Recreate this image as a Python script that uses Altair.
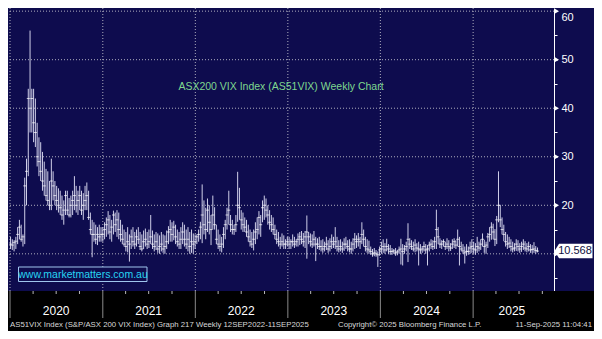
import altair as alt
import pandas as pd

# ---------------- data (weekly OHLC-style: high, low, close) ----------------
hi_2020 = [13.5, 13, 12.8, 13.5, 15.5, 17, 16, 14, 25.7, 29.6, 44, 56, 44, 44, 42, 37, 34, 33, 31, 29,
           27.5, 27, 25, 29.6, 27, 25, 24, 23.5, 23, 22, 21, 23, 23, 21.5, 22, 23, 26, 24, 23, 24,
           23, 22.5, 24, 24.7, 23, 18.5, 17, 16.5, 16, 15.5, 16, 15.5]
lo_2020 = [11, 10.8, 10.5, 11, 12, 13, 12.5, 11.5, 12, 20, 26, 35, 35, 33, 32, 28, 26, 25, 23, 22,
           21, 20, 19, 19, 21, 20, 19, 18.5, 18, 17, 16, 18, 18, 17.5, 17.5, 18, 19, 18.5, 18, 19,
           18, 17, 19, 19, 17, 14, 9.3, 12.5, 12, 11.8, 12.5, 12.5]
cl_2020 = [12, 11.8, 12.3, 12.6, 14, 15.5, 13, 13.5, 24, 27, 42, 40, 42, 37, 35, 30, 29, 27, 25, 24,
           22, 21, 20, 25, 24, 22, 21, 20, 19.5, 18, 19, 22, 19, 18, 20, 21, 22, 20, 21, 22,
           19, 20, 21, 22, 17.5, 15, 14, 14, 13, 14, 13.5, 14]

hi_2021 = [15.5, 16.5, 17.5, 18.8, 18, 17, 18.9, 18.5, 19, 18.5, 17, 16, 15, 14.5, 15.5, 14, 15, 15.5, 14.5, 15,
           15.5, 14.5, 14, 14.8, 15.2, 14.5, 15, 18, 14.8, 14, 14.5, 14.2, 13.8, 14.5, 14, 13.8, 14.8, 15.7, 17, 16.5,
           16.8, 16, 15, 14.5, 15.5, 16.5, 16, 15, 15.5, 14.5, 15, 14.2, 14]
lo_2021 = [12.5, 13, 13.5, 14, 13, 12.5, 14, 14.5, 13.5, 13, 12.5, 12, 11.5, 10.5, 10.3, 8.4, 11, 11.5, 11, 11.5,
           12, 10.8, 10.5, 11, 11.5, 11, 11.2, 12, 11, 10.5, 10.8, 10.2, 10, 10.5, 10.2, 10, 11, 12, 12.5, 12.5,
           12.8, 12, 11.5, 11, 11, 12, 11.5, 11, 10.5, 10, 10.2, 10, 11]
cl_2021 = [14, 15, 16, 17, 14.5, 15.5, 18, 16, 17, 15, 14, 13, 12, 11.5, 12.5, 12, 13.5, 12.5, 12, 13.5,
           13, 11.5, 11, 12.5, 13, 12, 12.5, 13.5, 12, 11.5, 12.5, 11, 11.5, 12, 11, 11.5, 12.5, 14.5, 15, 14,
           15.5, 13.5, 12.5, 12, 13, 14.5, 13, 12, 13, 11.5, 12.5, 12, 12.5]

hi_2022 = [14, 15, 16.6, 24.3, 21, 19.5, 21.4, 20, 18, 22, 19.6, 16, 15, 14, 13.5, 15.5, 17, 19.5, 23, 18,
           17, 16, 18, 26.9, 23.6, 19, 18.5, 17.5, 17, 16, 15, 14.5, 15, 16.5, 17.5, 18.8, 18, 21, 22, 21.4,
           20, 19, 18, 17.5, 16, 15, 14.5, 13.5, 14.2, 13.8, 13, 13.5]
lo_2022 = [12, 12.5, 13, 12.2, 14, 13, 14.5, 14, 11.8, 15, 15, 12, 11, 10.5, 10.3, 11.2, 13, 15, 16, 14.5,
           14, 13.9, 14.5, 16.6, 17, 15, 14.5, 14.5, 13.5, 12.5, 11.5, 11.2, 10.7, 12, 13, 14, 13.5, 16.5, 17, 17.5,
           16, 15, 14.5, 14, 13, 12, 11.5, 11, 11.5, 11, 11, 11.5]
cl_2022 = [13.5, 14, 15.5, 18, 16, 15, 19, 16.5, 15, 18, 16, 13, 12, 11.5, 12, 14, 16, 18, 19, 16,
           15, 15, 16, 20, 19.5, 17, 16, 15.5, 14.5, 13.5, 12.5, 12, 13, 14.5, 15, 17.5, 16, 19.5, 20, 19,
           18, 16.5, 16, 15, 14, 13, 12.5, 12, 12.5, 12, 12, 12.5]

hi_2023 = [13.5, 13, 14, 13.5, 13, 14.2, 14.5, 14.7, 14.3, 14.7, 17.9, 14.5, 14.2, 14, 14.7, 13.5, 13.2, 13.5, 12.8, 13,
           12.5, 13.5, 12.8, 13.2, 14, 13.5, 15.5, 13.5, 12.8, 13, 12.5, 13.2, 13.5, 12.8, 13, 12.5, 13.2, 14.3, 13.8, 14.3,
           13.5, 16.5, 15, 13.5, 13, 12.7, 11.5, 11, 11.2, 10.8, 10.5, 11.5]
lo_2023 = [11, 11, 11.5, 11.2, 11.5, 11.5, 11.8, 12, 11.5, 11.2, 9, 12, 11.5, 11.2, 11.5, 8.5, 11, 10.8, 10.5, 10.2,
           10.5, 10.8, 10.2, 10.5, 11, 11.2, 11, 10.5, 10.3, 10.5, 10.2, 10.6, 11, 10.5, 10.3, 10, 10.5, 11, 11.2, 11.5,
           11, 12, 11.5, 10.5, 10.2, 10, 9.8, 9.4, 9.5, 9.4, 7.3, 9.6]
cl_2023 = [12, 12.5, 12.5, 12, 12.5, 13, 13.5, 13, 12.5, 13.5, 14.5, 13.5, 12.5, 12, 13, 12, 12, 11.5, 11.5, 11,
           11.5, 12, 11, 11.5, 12.5, 12, 12.5, 11.5, 11, 11.5, 11, 12, 12, 11.5, 11, 11, 12, 13, 12.5, 13,
           12.5, 14, 13, 11.5, 11, 10.8, 10.5, 10, 10.2, 10, 9.8, 10.8]

hi_2024 = [12.5, 13, 12.2, 13.1, 12, 11.8, 11.2, 11, 11.2, 10.8, 11.5, 13.1, 12, 11.8, 12.5, 16.3, 13.2, 12.8, 12.5, 13,
           12.2, 12.5, 12, 11.6, 12.5, 12, 11.8, 12.5, 13, 12.8, 13.5, 19.1, 15.5, 13.2, 12.8, 13, 12.5, 13.2, 12.8, 12.2,
           13, 13.2, 12.8, 15, 13.5, 12.5, 12, 11.5, 12, 11.5, 12.5, 13]
lo_2024 = [10, 10.2, 10, 10.5, 10, 9.8, 9.8, 10, 9.6, 9.7, 10, 7.8, 7.6, 10, 10.5, 8.3, 11, 10.8, 10.5, 10.3,
           10.5, 7.6, 10, 10.2, 10.5, 10, 7.6, 10.5, 11, 10.8, 11, 11, 12, 11.2, 11, 11.5, 10.8, 11, 10.5, 10.6,
           11, 11.2, 11, 11.5, 7.6, 10.5, 10, 8, 9.6, 9.8, 10, 10.2]
cl_2024 = [11, 11.5, 10.8, 11.5, 11, 10.5, 10.5, 10.6, 10.2, 10.4, 10.8, 11, 10.5, 11, 11.5, 13, 12, 11.5, 11, 11.8,
           11.2, 11, 10.8, 11, 11.5, 10.8, 11, 11.8, 12, 11.5, 12.5, 15, 13.5, 12, 12, 12.5, 11.5, 12, 11.5, 11.2,
           12, 12.5, 11.8, 13, 11.5, 11, 10.6, 10.2, 10.5, 10.5, 11.2, 11.5]

hi_2025 = [12.5, 12.2, 13.5, 12.5, 13, 14.2, 12.9, 12.5, 14.3, 15.5, 16.5, 16.2, 15.1, 17.8, 27, 20.1, 17.5, 16, 14.5, 14,
           13.5, 13, 12.5, 12.2, 13, 12.8, 12.2, 12.5, 13, 12.6, 12.2, 12.5, 12, 11.8, 12.4, 11.6, 11.3]
lo_2025 = [10, 9.8, 10.2, 10.5, 10.8, 11.5, 10.2, 10, 11.2, 12.5, 12.9, 13, 11.6, 12, 16.5, 15.5, 14, 12.6, 11.5, 11,
           11.2, 10.5, 10.3, 10.5, 10.6, 10.5, 10.2, 10.4, 10.8, 10.5, 10.3, 10.5, 10.2, 10.1, 10.2, 10, 10.3]
cl_2025 = [11, 10.8, 11.5, 11.2, 12, 13, 11.5, 11.8, 13.5, 14, 15.5, 14.5, 13, 17, 20, 17, 15, 14, 12.5, 12,
           12.2, 11.5, 11, 11.2, 12, 11.5, 11, 11.5, 12, 11.2, 11, 11.5, 10.8, 10.9, 11, 10.7, 10.568]

first_week = "2020-01-03"
year_labels = ["2020", "2021", "2022", "2023", "2024", "2025"]
year_label_dates = ["2020-07-01", "2021-07-01", "2022-07-01", "2023-07-01", "2024-07-01", "2025-06-03"]
year_starts = ["2020-01-01", "2021-01-01", "2022-01-01", "2023-01-01", "2024-01-01", "2025-01-01"]
quarter_ticks = [f"{y}-{m}-01" for y in range(2020, 2026) for m in ("04", "07", "10")]
y_major = [10, 20, 30, 40, 50, 60]
y_ticks = [5, 10, 15, 20, 25, 30, 35, 40, 45, 50, 55, 60]

title_text = "ASX200 VIX Index (AS51VIX) Weekly Chart"
site_text = "www.marketmatters.com.au"
footer_left = "AS51VIX Index (S&P/ASX 200 VIX Index) Graph 217  Weekly 12SEP2022-11SEP2025"
footer_mid = "Copyright\u00a9 2025 Bloomberg Finance L.P."
footer_right = "11-Sep-2025 11:04:41"

# ---------------- tables ----------------
hi = hi_2020 + hi_2021 + hi_2022 + hi_2023 + hi_2024 + hi_2025
lo = lo_2020 + lo_2021 + lo_2022 + lo_2023 + lo_2024 + lo_2025
cl = cl_2020 + cl_2021 + cl_2022 + cl_2023 + cl_2024 + cl_2025
dates = pd.date_range(first_week, periods=len(hi), freq="7D")
bars = pd.DataFrame({"date": dates, "hi": hi, "lo": lo, "cl": cl})
last = bars.tail(1)

one = pd.DataFrame({"k": [0]})

# ---------------- styling ----------------
W, H = 546, 283
PAD_R, PAD_B = 40, 40
NAVY = "#0e0c4e"
GRID = "#aeaebe"
BAR = "#cfcfe8"
FONT = "Liberation Sans, Arial, sans-serif"
FOOT_COL = "#d8d8d8"

x_scale = alt.Scale(domain=[alt.DateTime(year=2019, month=12, date=24),
                            alt.DateTime(year=2025, month=11, date=16)])
y_scale = alt.Scale(domain=[2.34, 60.65], nice=False, zero=False)
yaxis = alt.Axis(orient="right", values=y_ticks,
                 labelExpr="(datum.value % 10 == 0 && datum.value != 10) ? datum.label : ''",
                 labelBaseline={"condition": {"test": "datum.value == 60", "value": "top"},
                                "value": "middle"},
                 grid=False, domainColor="white", domainWidth=1, tickColor="white",
                 tickSize=3, labelColor="white", labelFont=FONT, labelFontSize=11,
                 labelPadding=4, title=None)

hgrid = alt.Chart(pd.DataFrame({"v": y_major})).mark_rule(
    color=GRID, strokeDash=[1, 2], strokeWidth=1).encode(
    y=alt.Y("v:Q", scale=y_scale, axis=yaxis))

vgrid = alt.Chart(pd.DataFrame({"d": year_starts})).mark_rule(
    color=GRID, strokeDash=[1, 2], strokeWidth=1).encode(
    x=alt.X("d:T", scale=x_scale, axis=None))

rules = alt.Chart(bars).mark_rule(color=BAR, strokeWidth=1).encode(
    x=alt.X("date:T", scale=x_scale, axis=None),
    y=alt.Y("lo:Q", scale=y_scale, axis=yaxis),
    y2="hi:Q")

closes = alt.Chart(bars).mark_tick(orient="horizontal", size=3, thickness=1, color="#ffffff").encode(
    x=alt.X("date:T", scale=x_scale, axis=None),
    y=alt.Y("cl:Q", scale=y_scale, axis=yaxis))

bottom = alt.Chart(one).mark_rect(color="black").encode(
    x=alt.value(0), x2=alt.value(W + PAD_R), y=alt.value(H), y2=alt.value(H + PAD_B))

year_lines = alt.Chart(pd.DataFrame({"d": year_starts})).mark_rule(color="#8a8a8a", strokeWidth=1).encode(
    x=alt.X("d:T", scale=x_scale, axis=None), y=alt.value(H), y2=alt.value(H + 27))

q_ticks = alt.Chart(pd.DataFrame({"d": quarter_ticks})).mark_rule(color="#b8b8b8", strokeWidth=1).encode(
    x=alt.X("d:T", scale=x_scale, axis=None), y=alt.value(H), y2=alt.value(H + 3))

years = alt.Chart(pd.DataFrame({"d": year_label_dates, "t": year_labels})).mark_text(
    color="white", font=FONT, fontSize=12, baseline="middle", align="center").encode(
    x=alt.X("d:T", scale=x_scale, axis=None), y=alt.value(303), text="t:N")

foot_l = alt.Chart(pd.DataFrame({"t": [footer_left]})).mark_text(
    color=FOOT_COL, font=FONT, fontSize=7.8, align="left", baseline="middle").encode(
    x=alt.value(2), y=alt.value(317), text="t:N")
foot_m = alt.Chart(pd.DataFrame({"t": [footer_mid]})).mark_text(
    color=FOOT_COL, font=FONT, fontSize=7.8, align="left", baseline="middle").encode(
    x=alt.value(330), y=alt.value(317), text="t:N")
foot_r = alt.Chart(pd.DataFrame({"t": [footer_right]})).mark_text(
    color=FOOT_COL, font=FONT, fontSize=7.8, align="right", baseline="middle").encode(
    x=alt.value(584), y=alt.value(317), text="t:N")

site_box = alt.Chart(one).mark_rect(fill=NAVY, stroke="#9fc6ee", strokeWidth=1).encode(
    x=alt.value(10.5), x2=alt.value(139), y=alt.value(259), y2=alt.value(273.5))
site = alt.Chart(pd.DataFrame({"t": [site_text]})).mark_text(
    color="#27d4f2", font=FONT, fontSize=10.5, align="center", baseline="middle").encode(
    x=alt.value(75), y=alt.value(266.5), text="t:N")

title = alt.Chart(pd.DataFrame({"t": [title_text]})).mark_text(
    color="#7fd88f", font=FONT, fontSize=10.5, align="center", baseline="middle").encode(
    x=alt.value(273), y=alt.value(79), text="t:N")

tri = alt.Chart(pd.DataFrame({"v": y_major})).mark_point(
    shape="triangle-right", filled=True, size=22, color="white", opacity=1).encode(
    x=alt.value(W + 3), y=alt.Y("v:Q", scale=y_scale, axis=yaxis))

price_box = alt.Chart(last).mark_point(
    shape="M-1,0 L-0.76,-0.38 L1,-0.38 L1,0.38 L-0.76,0.38 Z",
    filled=True, size=38 * 38, color="white", opacity=1).encode(
    x=alt.value(W + 19.5), y=alt.Y("cl:Q", scale=y_scale, axis=yaxis))
price_txt = alt.Chart(last).mark_text(
    color="#101040", font=FONT, fontSize=11, align="center", baseline="middle").encode(
    x=alt.value(W + 21), y=alt.Y("cl:Q", scale=y_scale, axis=yaxis),
    text=alt.Text("cl:Q", format=".3f"))

chart = alt.layer(
    hgrid, vgrid, rules, closes, bottom, year_lines, q_ticks, years,
    foot_l, foot_m, foot_r, site_box, site, title, tri, price_box, price_txt
).properties(
    width=W, height=H,
    autosize=alt.AutoSizeParams(type="none"),
    padding={"left": 0, "top": 0, "right": PAD_R, "bottom": PAD_B},
    background=NAVY,
).configure_view(stroke=None)

chart.save("out.html", embed_options={"renderer": "svg", "actions": False})
